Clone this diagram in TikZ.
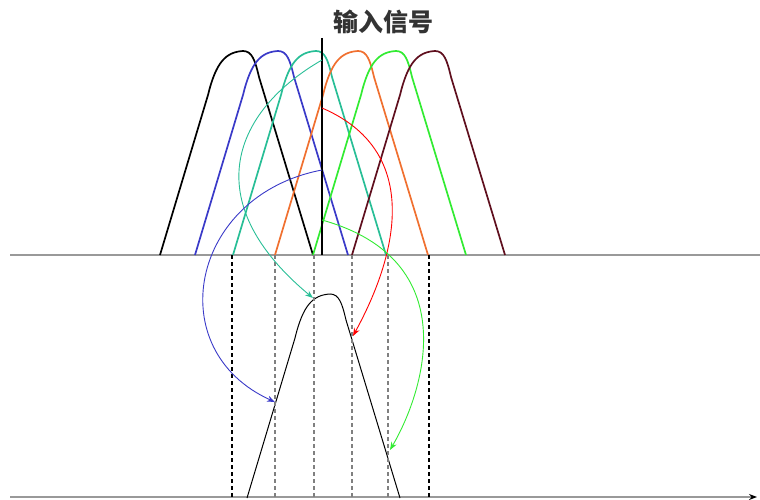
\documentclass[tikz,border=0pt]{standalone}
\usepackage{fontspec}
\usepackage{xcolor}
\usepackage{tikz}
\usetikzlibrary{arrows.meta}
\newfontfamily\cjk{Noto Sans CJK SC}

\definecolor{wblue}{RGB}{58,58,200}
\definecolor{wteal}{RGB}{40,190,150}
\definecolor{worange}{RGB}{240,112,48}
\definecolor{wgreen}{RGB}{50,235,50}
\definecolor{wbrown}{RGB}{95,15,30}

\tikzset{
  wave/.style={line width=1.7pt, line join=round},
  axisline/.style={gray!80, line width=1.8pt},
  guide/.style={dashed, dash pattern=on 4pt off 3pt, line width=1.1pt},
  mapping/.style={line width=0.9pt, -{Stealth[length=8pt, width=6pt]}}
}

\begin{document}
\begin{tikzpicture}[x=1pt, y=-1pt]
        \useasboundingbox (0,0) rectangle (760,500);

        % Axes
        \draw[axisline] (10,255) -- (760,255);
        \draw[axisline, -{Stealth[black, length=8pt, width=6pt]}] (10,497) -- (757,497);

        % Filter bank (shifted copies)
        \foreach \s/\c in {0/black, 35/wblue, 73/wteal, 115/worange, 153/wgreen, 192/wbrown}
          \draw[wave, \c, shift={(\s,0)}] (160,255) -- (208,95)
            .. controls (216,62) and (226,52) .. (243,51)
            .. controls (252,51) and (255,60) .. (259,77) -- (313,255);

        % Input signal
        \draw[line width=2.5pt] (322,38) -- (322,255);
        \node[font=\cjk\bfseries\fontsize{25}{30}\selectfont, text=black!80] (title) at (383,22) {输入信号};

        % Output response
        \draw[line width=1pt, shift={(87,243)}] (160,255) -- (208,95)
            .. controls (216,62) and (226,52) .. (243,51)
            .. controls (252,51) and (255,60) .. (259,77) -- (313,255);

        % Sample positions
        \foreach \x in {232,429}
          \draw[guide, black] (\x,255) -- (\x,497);
        \foreach \x in {275,314,352,388}
          \draw[guide, gray] (\x,255) -- (\x,497);

        % Start and end points
        \coordinate (tealS) at (322,60);
        \coordinate (redS) at (322,108);
        \coordinate (blueS) at (322,170);
        \coordinate (greenS) at (322,220);
        \coordinate (tealE) at (313,298);
        \coordinate (redE) at (353,336);
        \coordinate (blueE) at (275,402);
        \coordinate (greenE) at (390,450);

        % Mappings
        \draw[mapping, wteal] (tealS) .. controls (235,110) and (195,200) .. (tealE);
        \draw[mapping, red] (redS) .. controls (420,150) and (400,250) .. (redE);
        \draw[mapping, wblue] (blueS) .. controls (190,195) and (160,350) .. (blueE);
        \draw[mapping, wgreen] (greenS) .. controls (465,260) and (425,390) .. (greenE);
    \end{tikzpicture}
\end{document}
